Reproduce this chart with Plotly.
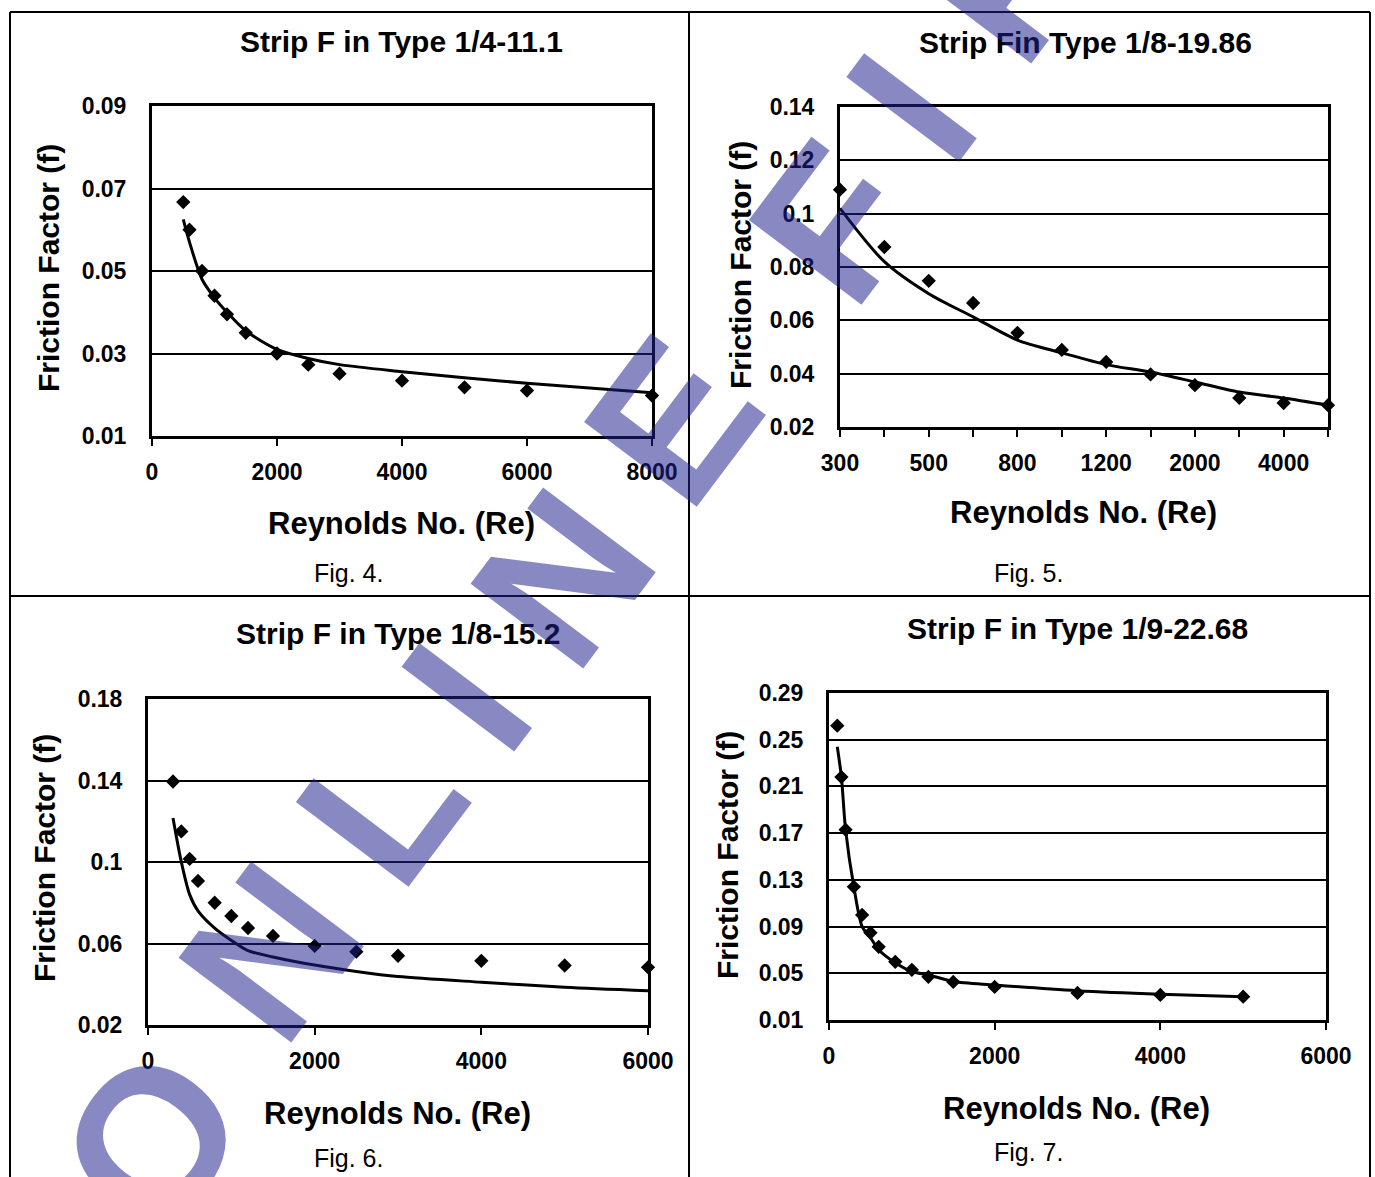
import plotly.graph_objects as go

W, H = 1375, 1177

# ---------------- data ----------------
# Fig. 4  Strip Fin Type 1/4-11.1
re4 = [500, 600, 800, 1000, 1200, 1500, 2000, 2500, 3000, 4000, 5000, 6000, 8000]
f4 = [0.0667, 0.060, 0.050, 0.044, 0.0395, 0.035, 0.030, 0.0273, 0.0251, 0.0234, 0.0218, 0.0210, 0.0198]
fit4 = [0.0625, 0.057, 0.048, 0.0435, 0.040, 0.0355, 0.031, 0.0288, 0.0273, 0.0256, 0.0241, 0.0228, 0.0205]
xt4 = [0, 2000, 4000, 6000, 8000]
yt4 = [0.01, 0.03, 0.05, 0.07, 0.09]
yt4_text = ["0.01", "0.03", "0.05", "0.07", "0.09"]

# Fig. 5  Strip Fin Type 1/8-19.86 (category axis)
re5 = ["300", "400", "500", "600", "800", "1000", "1200", "1500", "2000", "3000", "4000", "5000"]
f5 = [0.109, 0.0875, 0.0748, 0.0665, 0.0553, 0.0489, 0.0444, 0.0397, 0.0357, 0.0309, 0.029, 0.0282]
fit5 = [0.102, 0.082, 0.070, 0.0613, 0.0526, 0.0478, 0.0434, 0.0406, 0.0369, 0.0331, 0.0309, 0.0282]
xt5_text = ["300", "", "500", "", "800", "", "1200", "", "2000", "", "4000", ""]
yt5 = [0.02, 0.04, 0.06, 0.08, 0.10, 0.12, 0.14]
yt5_text = ["0.02", "0.04", "0.06", "0.08", "0.1", "0.12", "0.14"]

# Fig. 6  Strip Fin Type 1/8-15.2
re6 = [300, 400, 500, 600, 800, 1000, 1200, 1500, 2000, 2500, 3000, 4000, 5000, 6000]
f6 = [0.1395, 0.115, 0.1015, 0.0907, 0.080, 0.0735, 0.0676, 0.0637, 0.0588, 0.056, 0.054, 0.0515, 0.0492, 0.0483]
fit6 = [0.1216, 0.100, 0.084, 0.076, 0.0675, 0.0615, 0.0565, 0.0534, 0.0494, 0.0463, 0.0438, 0.0410, 0.0385, 0.0368]
xt6 = [0, 2000, 4000, 6000]
yt6 = [0.02, 0.06, 0.10, 0.14, 0.18]
yt6_text = ["0.02", "0.06", "0.1", "0.14", "0.18"]

# Fig. 7  Strip Fin Type 1/9-22.68
re7 = [100, 150, 200, 300, 400, 500, 600, 800, 1000, 1200, 1500, 2000, 3000, 4000, 5000]
f7 = [0.262, 0.218, 0.173, 0.124, 0.100, 0.0847, 0.0727, 0.0598, 0.053, 0.047, 0.0426, 0.0383, 0.0332, 0.0315, 0.030]
fit7 = [0.244, 0.218, 0.173, 0.124, 0.090, 0.0806, 0.0702, 0.059, 0.0515, 0.0486, 0.043, 0.040, 0.035, 0.032, 0.030]
xt7 = [0, 2000, 4000, 6000]
yt7 = [0.01, 0.05, 0.09, 0.13, 0.17, 0.21, 0.25, 0.29]
yt7_text = ["0.01", "0.05", "0.09", "0.13", "0.17", "0.21", "0.25", "0.29"]

titles = ["Strip F in Type 1/4-11.1", "Strip Fin Type 1/8-19.86",
          "Strip F in Type 1/8-15.2", "Strip F in Type 1/9-22.68"]
captions = ["Fig. 4.", "Fig. 5.", "Fig. 6.", "Fig. 7."]
ytitle = "Friction Factor (f)"
xtitle = "Reynolds No. (Re)"

# ---------------- helpers ----------------
def px(x):
    return x / W


def py(y):
    return 1 - y / H


FONT = "Liberation Sans, Arial, sans-serif"
BOLD_TICK = dict(family=FONT, size=23, color="black", weight="bold")

fig = go.Figure()

series = [
    (re4, f4, fit4, "x", "y"),
    (re5, f5, fit5, "x2", "y2"),
    (re6, f6, fit6, "x3", "y3"),
    (re7, f7, fit7, "x4", "y4"),
]
for xs, ys, fits, xa, ya in series:
    fig.add_trace(go.Scatter(x=xs, y=fits, mode="lines", xaxis=xa, yaxis=ya,
                             line=dict(color="black", width=3, shape="spline", smoothing=0.8),
                             showlegend=False, hoverinfo="skip", cliponaxis=False))
    fig.add_trace(go.Scatter(x=xs, y=ys, mode="markers", xaxis=xa, yaxis=ya,
                             marker=dict(symbol="diamond", size=11, color="black"),
                             showlegend=False, cliponaxis=False))

# plot-area boxes (pixel coords: left, right, top, bottom)
boxes = [(152, 652, 106, 436), (840, 1328, 107, 427), (148, 648, 699, 1025), (829, 1326, 693, 1020)]


def xaxis_common(box, anchor):
    l, r, t, b = box
    return dict(domain=[px(l), px(r)], anchor=anchor, showline=True, mirror=True,
                linecolor="black", linewidth=3, ticks="outside", ticklen=7, tickwidth=2,
                tickcolor="black", showgrid=False, zeroline=False, tickfont=BOLD_TICK,
                ticklabelstandoff=6, automargin=False)


def yaxis_common(box, anchor):
    l, r, t, b = box
    return dict(domain=[py(b), py(t)], anchor=anchor, showline=True, mirror=True,
                linecolor="black", linewidth=3, ticks="", showgrid=True, gridcolor="black",
                gridwidth=2, zeroline=False, tickfont=BOLD_TICK, ticklabelstandoff=18,
                automargin=False)


x1 = xaxis_common(boxes[0], "y"); x1.update(range=[0, 8000], tickmode="array", tickvals=xt4,
                                            ticktext=[str(v) for v in xt4])
y1 = yaxis_common(boxes[0], "x"); y1.update(range=[0.01, 0.09], tickmode="array", tickvals=yt4,
                                            ticktext=yt4_text)
x2 = xaxis_common(boxes[1], "y2"); x2.update(type="category", range=[0, len(re5) - 1],
                                             tickmode="array", tickvals=re5, ticktext=xt5_text)
y2 = yaxis_common(boxes[1], "x2"); y2.update(range=[0.02, 0.14], tickmode="array", tickvals=yt5,
                                             ticktext=yt5_text)
x3 = xaxis_common(boxes[2], "y3"); x3.update(range=[0, 6000], tickmode="array", tickvals=xt6,
                                             ticktext=[str(v) for v in xt6])
y3 = yaxis_common(boxes[2], "x3"); y3.update(range=[0.02, 0.18], tickmode="array", tickvals=yt6,
                                             ticktext=yt6_text)
x4 = xaxis_common(boxes[3], "y4"); x4.update(range=[0, 6000], tickmode="array", tickvals=xt7,
                                             ticktext=[str(v) for v in xt7])
y4 = yaxis_common(boxes[3], "x4"); y4.update(range=[0.01, 0.29], tickmode="array", tickvals=yt7,
                                             ticktext=yt7_text)

annotations = []


def text(t, x, y, size, bold=True, angle=0, color="black"):
    annotations.append(dict(text=t, x=px(x), y=py(y), xref="paper", yref="paper",
                            showarrow=False, xanchor="center", yanchor="middle", textangle=angle,
                            font=dict(family=FONT, size=size, color=color,
                                      weight="bold" if bold else "normal")))


title_pos = [(401, 42), (1085, 43), (398, 633), (1077, 628)]
for t, (x, y) in zip(titles, title_pos):
    text(t, x, y, 30)

ytitle_pos = [(48, 268), (740, 265), (44, 858), (727, 855)]
for x, y in ytitle_pos:
    text(ytitle, x, y, 30, angle=-90)

xtitle_pos = [(401, 523), (1083, 512), (397, 1113), (1076, 1108)]
for x, y in xtitle_pos:
    text(xtitle, x, y, 31)

cap_pos = [(348, 573), (1028, 573), (348, 1158), (1028, 1152)]
for c, (x, y) in zip(captions, cap_pos):
    text(c, x, y, 25, bold=False)

# watermark letters
WM_COLOR = "rgba(30,30,140,0.53)"
wm_letters = ["O", "N", "L", "I", "N", "E", "F", "I", "R"]
wm_pos = [(150, 1140), (270, 951), (380, 805), (466, 696), (562, 577), (672, 420),
          (833, 223), (910, 107), (1010, -28)]
for ch, (x, y) in zip(wm_letters, wm_pos):
    text(ch, x, y, 205, bold=True, angle=-53, color=WM_COLOR)

# table borders
shapes = []
LINE = dict(color="black", width=2)
for (x0, y0, x1_, y1_) in [(10, 12, 1370, 12), (10, 12, 10, 1177), (1370, 12, 1370, 1177),
                           (689, 12, 689, 1177), (10, 596, 1370, 596)]:
    shapes.append(dict(type="line", xref="paper", yref="paper", x0=px(x0), y0=py(y0),
                       x1=px(x1_), y1=py(y1_), line=LINE, layer="below"))

fig.update_layout(width=W, height=H,
                  margin=dict(l=0, r=0, t=0, b=0, pad=0, autoexpand=False),
                  paper_bgcolor="white", plot_bgcolor="white", showlegend=False,
                  xaxis=x1, yaxis=y1, xaxis2=x2, yaxis2=y2, xaxis3=x3, yaxis3=y3,
                  xaxis4=x4, yaxis4=y4, annotations=annotations, shapes=shapes)

fig.write_html("out.html")
